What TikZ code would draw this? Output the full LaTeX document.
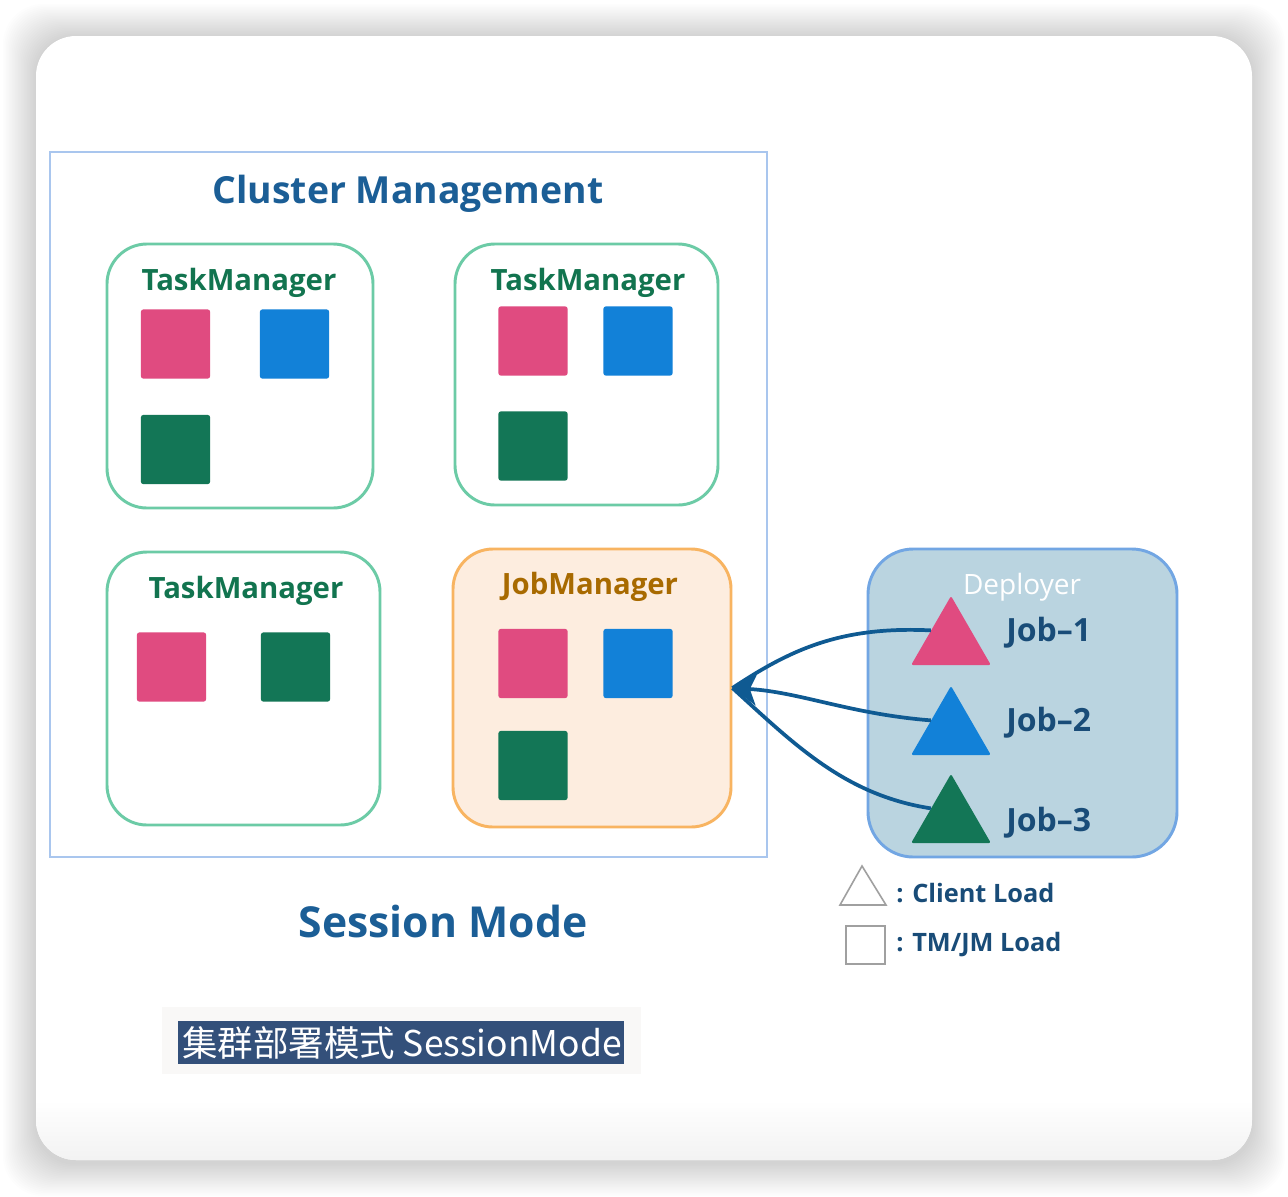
\documentclass[tikz,border=0pt]{standalone}
\usepackage{fontspec}
\setmainfont{Open Sans}
\newfontfamily\cjk{Noto Sans CJK SC}
\usetikzlibrary{arrows.meta,shapes.geometric,calc}
\definecolor{clborder}{HTML}{A9C6EE}
\definecolor{titleblue}{HTML}{1B5E96}
\definecolor{tmborder}{HTML}{6CCBA6}
\definecolor{tmtext}{HTML}{12744F}
\definecolor{sqpink}{HTML}{E04B80}
\definecolor{sqblue}{HTML}{1281D8}
\definecolor{sqgreen}{HTML}{137656}
\definecolor{jmfill}{HTML}{FDEDDF}
\definecolor{jmborder}{HTML}{F8B461}
\definecolor{jmtext}{HTML}{A86A00}
\definecolor{depfill}{HTML}{BAD4E0}
\definecolor{depborder}{HTML}{72A6E3}
\definecolor{jobtext}{HTML}{194C78}
\definecolor{arrowc}{HTML}{0F5A92}
\definecolor{leggray}{HTML}{A0A0A0}
\definecolor{capbg}{HTML}{F9F8F7}
\definecolor{caphl}{HTML}{33507A}
\tikzset{
  tmbox/.style={draw=tmborder, line width=2.2pt, rounded corners=30pt, fill=white, inner sep=0},
  jmbox/.style={draw=jmborder, line width=2.2pt, rounded corners=30pt, fill=jmfill, inner sep=0},
  sq/.style={minimum width=52pt, minimum height=52pt, inner sep=0, rounded corners=2pt},
  tri/.style={regular polygon, regular polygon sides=3, minimum size=69pt, inner sep=0, rounded corners=1.5pt},
  boxtitle/.style={font=\fontsize{22}{26}\selectfont\bfseries, inner sep=0},
  joblabel/.style={font=\fontsize{24}{28}\selectfont\bfseries, text=jobtext, anchor=west, inner sep=0},
  legtext/.style={font=\fontsize{19}{22}\selectfont\bfseries, text=jobtext, anchor=west, inner sep=0},
  conn/.style={draw=arrowc, line width=2.8pt}
}
\begin{document}
\begin{tikzpicture}[x=0.75pt,y=-0.75pt]
\useasboundingbox (0,0) rectangle (1288,1196);
\fill[white] (0,0) rectangle (1288,1196);
% card shadow
\foreach \i in {1,...,22} {
  \fill[black, opacity=0.0095, rounded corners=30pt] (36-1.5*\i,36-1.5*\i+1) rectangle (1252+1.5*\i,1160+1.5*\i+3);
}
\fill[white, rounded corners=30pt] (36,36) rectangle (1252,1160);
\begin{scope}
  \clip[rounded corners=30pt] (36,36) rectangle (1252,1160);
  \shade[top color=white, bottom color=black!5] (36,1100) rectangle (1252,1161);
\end{scope}

% cluster
\node[draw=clborder, line width=2pt, minimum width=537.75pt, minimum height=528.75pt, inner sep=0] (cluster) at (408.5,504.5) {};
\node[font=\fontsize{28}{33}\selectfont\bfseries, text=titleblue, inner sep=0] (cltitle) at (408,194) {Cluster Management};

% TaskManager 1
\node[tmbox, minimum width=199.5pt, minimum height=198pt] (tm1) at (240,376) {};
\node[boxtitle, text=tmtext] (tm1t) at (239,283) {TaskManager};
\node[sq, fill=sqpink] (tm1a) at (175.5,344) {};
\node[sq, fill=sqblue] (tm1b) at (294.5,344) {};
\node[sq, fill=sqgreen] (tm1c) at (175.5,449.5) {};

% TaskManager 2
\node[tmbox, minimum width=197.25pt, minimum height=195.75pt] (tm2) at (586.5,374.5) {};
\node[boxtitle, text=tmtext] (tm2t) at (588,283) {TaskManager};
\node[sq, fill=sqpink] (tm2a) at (533,341) {};
\node[sq, fill=sqblue] (tm2b) at (638,341) {};
\node[sq, fill=sqgreen] (tm2c) at (533,446) {};

% TaskManager 3
\node[tmbox, minimum width=204.75pt, minimum height=204.75pt] (tm3) at (243.5,688.5) {};
\node[boxtitle, text=tmtext] (tm3t) at (246,591) {TaskManager};
\node[sq, fill=sqpink] (tm3a) at (171.5,667) {};
\node[sq, fill=sqgreen] (tm3b) at (295.5,667) {};

% JobManager
\node[jmbox, minimum width=208.5pt, minimum height=208.5pt] (jm) at (592,688) {};
\node[boxtitle, text=jmtext] (jmt) at (590,587) {JobManager};
\node[sq, fill=sqpink] (jma) at (533,663.5) {};
\node[sq, fill=sqblue] (jmb) at (638,663.5) {};
\node[sq, fill=sqgreen] (jmc) at (533,765.5) {};

% Deployer
\node[draw=depborder, line width=2.2pt, fill=depfill, rounded corners=34pt, minimum width=231.75pt, minimum height=231pt, inner sep=0] (dep) at (1022.5,703) {};
\node[font=\fontsize{21}{25}\selectfont, text=white, inner sep=0] (dept) at (1022,587) {Deployer};
\node[tri, fill=sqpink] (t1) at (951,642) {};
\node[tri, fill=sqblue] (t2) at (951,732) {};
\node[tri, fill=sqgreen] (t3) at (951,820) {};
\node[joblabel] (j1) at (1006,633) {Job–1};
\node[joblabel] (j2) at (1006,723) {Job–2};
\node[joblabel] (j3) at (1006,823) {Job–3};

% connectors
\coordinate (tip) at (jm.east);
\coordinate (s1) at ($(t1.corner 1)!0.5!(t1.corner 2)$);
\coordinate (s2) at ($(t2.corner 1)!0.5!(t2.corner 2)$);
\coordinate (s3) at ($(t3.corner 1)!0.5!(t3.corner 2)$);
\draw[conn] (s1) .. controls (840,626) and (790,650) .. (tip);
\draw[conn] (s3) .. controls (845,795) and (795,745) .. (tip);
\draw[conn, -{Stealth[length=18pt,width=24pt,inset=5pt]}] (s2) .. controls (850,714) and (800,692) .. (tip);

% legend
\draw[leggray, line width=1.2pt] (862,866) -- (886,905) -- (840,905) -- cycle;
\node[legtext] (l1) at (896,893) {: Client Load};
\node[draw=leggray, line width=1.2pt, minimum width=29pt, minimum height=28.5pt, inner sep=0] (lsq) at (865.5,945) {};
\node[legtext] (l2) at (896,945) {: TM/JM Load};

% title
\node[font=\fontsize{32}{38}\selectfont\bfseries, text=titleblue, inner sep=0] (mode) at (443,921) {Session Mode};

% caption
\node[fill=capbg, minimum width=359.25pt, minimum height=50.25pt, inner sep=0] (capbox) at (401.5,1040.5) {};
\node[fill=caphl, minimum width=334.5pt, minimum height=32.25pt, inner sep=0] (caphlbox) at (401,1042.5) {};
\node[text=white, font=\cjk\fontsize{26.6}{30}\selectfont, inner sep=0] (cap) at (402,1042.5) {集群部署模式 SessionMode};
\end{tikzpicture}
\end{document}
